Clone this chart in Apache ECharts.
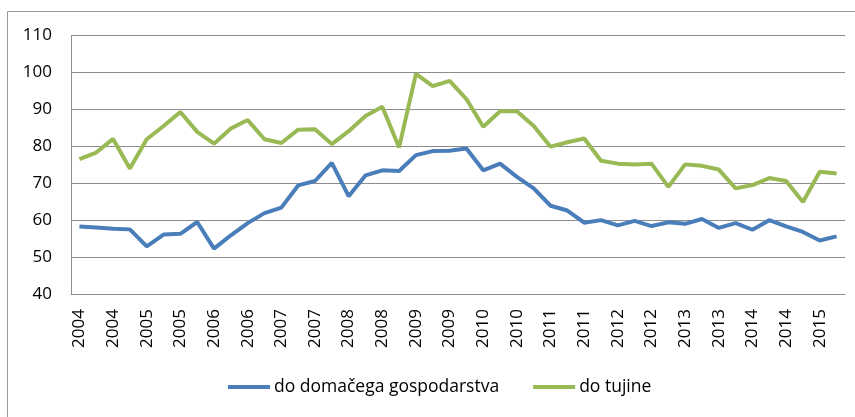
<!DOCTYPE html>
<html>
<head>
<meta charset="utf-8">
<script src="https://cdn.jsdelivr.net/npm/echarts@6/dist/echarts.min.js"></script>
<style>
html,body{margin:0;padding:0;background:#fff;}
#c{width:855px;height:417px;}
</style>
</head>
<body>
<div id="c"></div>
<script>
var categories = [
 '2004 Q1','2004 Q2','2004 Q3','2004 Q4',
 '2005 Q1','2005 Q2','2005 Q3','2005 Q4',
 '2006 Q1','2006 Q2','2006 Q3','2006 Q4',
 '2007 Q1','2007 Q2','2007 Q3','2007 Q4',
 '2008 Q1','2008 Q2','2008 Q3','2008 Q4',
 '2009 Q1','2009 Q2','2009 Q3','2009 Q4',
 '2010 Q1','2010 Q2','2010 Q3','2010 Q4',
 '2011 Q1','2011 Q2','2011 Q3','2011 Q4',
 '2012 Q1','2012 Q2','2012 Q3','2012 Q4',
 '2013 Q1','2013 Q2','2013 Q3','2013 Q4',
 '2014 Q1','2014 Q2','2014 Q3','2014 Q4',
 '2015 Q1','2015 Q2'
];
var seriesNames = ['do domačega gospodarstva', 'do tujine'];
var domestic = [58.3,58.0,57.7,57.5,52.9,56.1,56.3,59.5,52.3,55.9,59.2,61.9,63.4,69.4,70.6,75.5,66.5,72.1,73.5,73.3,77.6,78.7,78.8,79.4,73.5,75.3,71.7,68.6,63.9,62.6,59.3,60.0,58.6,59.8,58.4,59.4,59.0,60.3,57.9,59.2,57.4,60.0,58.3,56.8,54.5,55.6];
var foreign = [76.5,78.3,82.0,74.0,81.9,85.5,89.3,83.9,80.7,84.8,87.1,81.9,80.9,84.5,84.6,80.6,84.1,88.2,90.7,79.7,99.6,96.3,97.7,92.8,85.3,89.5,89.5,85.5,79.9,81.1,82.1,76.1,75.3,75.1,75.3,69.0,75.1,74.7,73.7,68.6,69.5,71.4,70.6,64.9,73.1,72.6];

var chart = echarts.init(document.getElementById('c'));
var font = '"Open Sans", "Liberation Sans", sans-serif';
chart.setOption({
  animation: false,
  backgroundColor: '#fff',
  graphic: [{
    type: 'rect',
    shape: {x: 7.5, y: 11.5, width: 1000, height: 1000},
    style: {fill: 'none', stroke: '#9a9a9a', lineWidth: 1},
    silent: true
  }],
  grid: {left: 71, right: 10, top: 35.5, bottom: 123},
  legend: {
    left: 228, top: 378,
    icon: 'rect', itemWidth: 42, itemHeight: 4, itemGap: 34,
    padding: 0,
    textStyle: {fontSize: 17.5, fontFamily: font, color: '#000', padding: [0,0,0,-1]},
    data: seriesNames
  },
  xAxis: {
    type: 'category',
    data: categories,
    boundaryGap: true,
    axisLine: {lineStyle: {color: '#8c8c8c', width: 1}},
    axisTick: {show: false},
    axisLabel: {
      interval: 1, rotate: 90, margin: 15,
      fontSize: 17, fontFamily: font, color: '#000',
      formatter: function (v) { return v.split(' ')[0]; }
    },
    splitLine: {show: false}
  },
  yAxis: {
    type: 'value', min: 40, max: 110, interval: 10,
    axisLine: {show: true, lineStyle: {color: '#8c8c8c', width: 1}},
    axisTick: {show: false},
    axisLabel: {margin: 19, fontSize: 17, fontFamily: font, color: '#000'},
    splitLine: {lineStyle: {color: '#8c8c8c', width: 1}}
  },
  series: [
    {name: seriesNames[0], type: 'line', data: domestic, showSymbol: false, symbol: 'none',
     lineStyle: {color: '#4A7EBB', width: 4}, itemStyle: {color: '#4A7EBB'}},
    {name: seriesNames[1], type: 'line', data: foreign, showSymbol: false, symbol: 'none',
     lineStyle: {color: '#98B954', width: 4}, itemStyle: {color: '#98B954'}}
  ]
});
</script>
</body>
</html>
